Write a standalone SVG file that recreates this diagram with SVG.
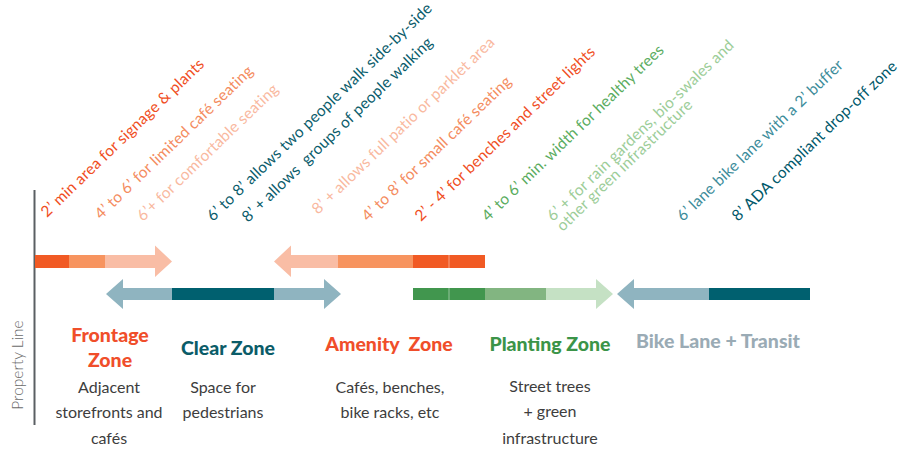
<svg xmlns="http://www.w3.org/2000/svg" width="918" height="450" viewBox="0 0 918 450">
<style>
.note{font-family:Lato,"Open Sans",sans-serif;font-size:15.5px;letter-spacing:0.25px;white-space:pre}
.title{font-family:Lato,"Open Sans",sans-serif;font-size:19.5px;font-weight:900;text-anchor:middle;white-space:pre}
.desc{font-family:Lato,"Open Sans",sans-serif;font-size:16px;fill:#3d3d3d;text-anchor:middle}
.sep{stroke:#ffffff;stroke-opacity:0.45;stroke-width:1}
.red{fill:#f15a24}.mid{fill:#f7945f}.lt{fill:#f9bda5}
.tl{fill:#8fb4c0}.td{fill:#00606f}
.gd{fill:#41964e}.gm{fill:#82b581}.gl{fill:#c5e1c4}
</style>
<rect width="918" height="450" fill="#ffffff"/>

<g id="property-line">
<line x1="34.5" y1="190" x2="34.5" y2="425" stroke="#5a5f63" stroke-width="2"/>
<text class="desc" transform="translate(23,365) rotate(-90)" style="fill:#6b6b6b;font-weight:300;font-size:15.5px">Property Line</text>
</g>

<g id="notes">
<text class="note" transform="translate(47,218) rotate(-44)" fill="#f04e23">2’ min area for signage &amp; plants</text>
<text class="note" transform="translate(101,220) rotate(-44)" fill="#f48c60">4’ to 6’ for limited café seating</text>
<text class="note" transform="translate(143,222) rotate(-44)" fill="#f9b99f">6’+ for comfortable seating</text>
<text class="note" transform="translate(213,222) rotate(-44)" fill="#0a5c6b">6’ to 8’ allows two people walk side-by-side</text>
<text class="note" transform="translate(248,223) rotate(-44)" fill="#0a5c6b">8’ + allows  groups of people walking</text>
<text class="note" transform="translate(318,215) rotate(-44)" fill="#f9b99f">8’ + allows full patio or parklet area</text>
<text class="note" transform="translate(368,222) rotate(-44)" fill="#f48c60">4’ to 8’ for small café seating</text>
<text class="note" transform="translate(421,222) rotate(-44)" fill="#f04e23">2’ - 4’ for benches and street lights</text>
<text class="note" transform="translate(488,222) rotate(-44)" fill="#5aac5e">4’ to 6’ min. width for healthy trees</text>
<text class="note" transform="translate(553,222) rotate(-44)" fill="#9ccd98">6’ + for rain gardens, bio-swales and<tspan x="0" dy="14">other green infrastructure</tspan></text>
<text class="note" transform="translate(683,222) rotate(-44)" fill="#3c8c9a">6’ lane bike lane with a 2’ buffer</text>
<text class="note" transform="translate(738,222) rotate(-44)" fill="#00586a">8’ ADA compliant drop-off zone</text>
</g>

<g id="connectors">
<!-- frontage arrow -->
<rect class="red" x="35" y="255" width="34" height="13"/>
<rect class="mid" x="69" y="255" width="36" height="13"/>
<polygon class="lt" points="105,255 155,255 155,245.5 172,261.5 155,277 155,268 105,268"/>
<!-- amenity arrow -->
<polygon class="lt" points="338,255 291,255 291,245.5 274,261.5 291,277 291,268 338,268"/>
<rect class="mid" x="338" y="255" width="75" height="13"/>
<rect class="red" x="413" y="255" width="72" height="13"/>
<line class="sep" x1="449" y1="255" x2="449" y2="268"/>
<!-- clear zone double arrow -->
<polygon class="tl" points="172,288 123,288 123,279 106,294 123,309 123,300 172,300"/>
<rect class="td" x="172" y="288" width="102" height="12"/>
<polygon class="tl" points="274,288 324,288 324,279 341,294 324,309 324,300 274,300"/>
<!-- planting arrow -->
<rect class="gd" x="413" y="288" width="72" height="12"/>
<line class="sep" x1="449" y1="288" x2="449" y2="300"/>
<rect class="gm" x="485" y="288" width="61" height="12"/>
<polygon class="gl" points="546,288 596,288 596,279 613,294 596,309 596,300 546,300"/>
<!-- bike lane arrow -->
<polygon class="tl" points="709,288 634,288 634,279 617,294 634,309 634,300 709,300"/>
<rect class="td" x="709" y="288" width="101" height="12"/>
</g>

<g id="frontage-zone">
<text class="title" x="110" y="342" fill="#f04e2a">Frontage</text>
<text class="title" x="110" y="367" fill="#f04e2a">Zone</text>
<text class="desc" x="109" y="393">Adjacent</text>
<text class="desc" x="109" y="418">storefronts and</text>
<text class="desc" x="109" y="444">cafés</text>
</g>

<g id="clear-zone">
<text class="title" x="228" y="355" fill="#0b5c68">Clear Zone</text>
<text class="desc" x="223" y="393">Space for</text>
<text class="desc" x="223" y="418">pedestrians</text>
</g>

<g id="amenity-zone">
<text class="title" x="389" y="351" fill="#f04e2a">Amenity  Zone</text>
<text class="desc" x="390" y="393">Cafés, benches,</text>
<text class="desc" x="390" y="418">bike racks, etc</text>
</g>

<g id="planting-zone">
<text class="title" x="550" y="351" fill="#3b9448">Planting Zone</text>
<text class="desc" x="550" y="392">Street trees</text>
<text class="desc" x="550" y="417">+ green</text>
<text class="desc" x="550" y="444">infrastructure</text>
</g>

<g id="bike-lane-transit">
<text class="title" x="718" y="348" fill="#9aabb5">Bike Lane + Transit</text>
</g>
</svg>
